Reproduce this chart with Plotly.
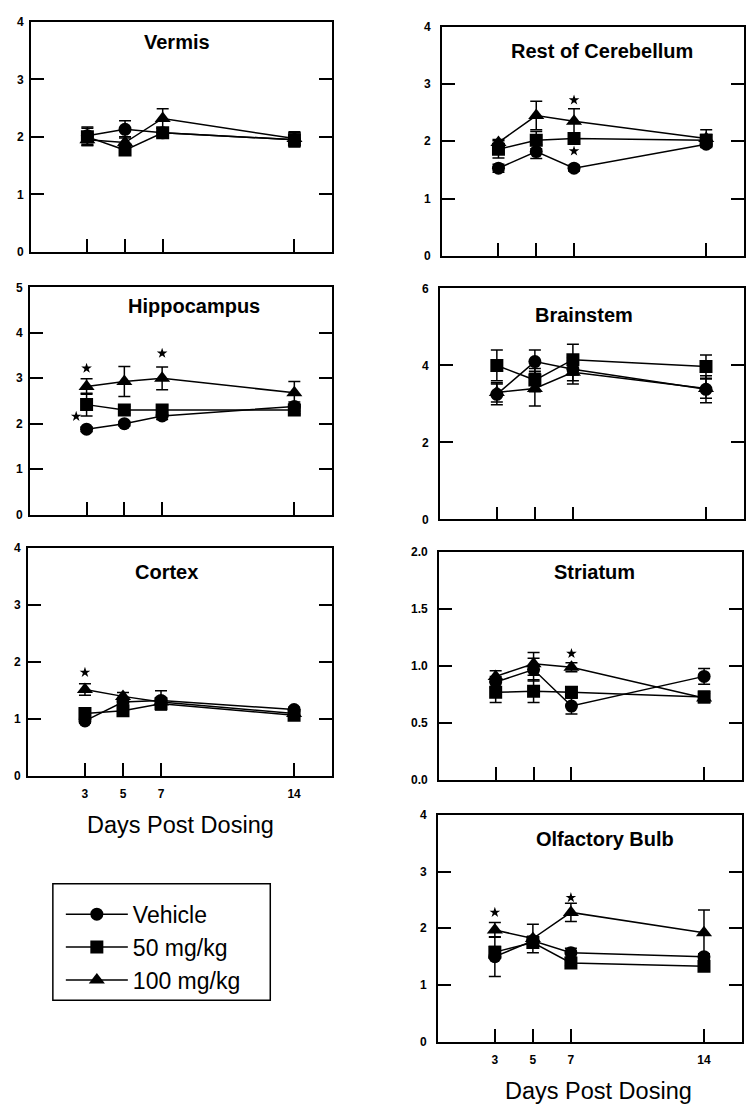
import plotly.graph_objects as go

W, H = 746, 1115
FONT = "Liberation Sans, Arial, Helvetica, sans-serif"

days = [3, 5, 7, 14]
series_names = ["Vehicle", "50 mg/kg", "100 mg/kg"]

# Vermis
vermis_vehicle = [2.02, 2.13, 2.07, 1.95]
vermis_vehicle_err = [0.15, 0.15, 0.08, 0.12]
vermis_50 = [2.00, 1.77, 2.07, 1.95]
vermis_50_err = [0.15, 0.08, 0.08, 0.12]
vermis_100 = [1.95, 1.90, 2.32, 1.97]
vermis_100_err = [0.10, 0.10, 0.17, 0.12]
vermis_sig_x = []
vermis_sig_y = []

# Rest of Cerebellum
rest_vehicle = [1.53, 1.82, 1.53, 1.95]
rest_vehicle_err = [0.07, 0.12, 0.05, 0.06]
rest_50 = [1.86, 2.02, 2.05, 2.02]
rest_50_err = [0.15, 0.15, 0.10, 0.10]
rest_100 = [1.98, 2.45, 2.35, 2.05]
rest_100_err = [0.05, 0.25, 0.22, 0.15]
rest_sig_x = [7, 7]
rest_sig_y = [2.72, 1.83]

# Hippocampus
hippo_vehicle = [1.88, 2.00, 2.17, 2.38]
hippo_vehicle_err = [0.05, 0.05, 0.08, 0.10]
hippo_50 = [2.42, 2.30, 2.30, 2.30]
hippo_50_err = [0.25, 0.08, 0.10, 0.08]
hippo_100 = [2.82, 2.93, 3.00, 2.68]
hippo_100_err = [0.17, 0.33, 0.25, 0.25]
hippo_sig_x = [3, 2.45, 7]
hippo_sig_y = [3.22, 2.16, 3.55]

# Brainstem
brain_vehicle = [3.25, 4.10, 3.90, 3.38]
brain_vehicle_err = [0.27, 0.30, 0.30, 0.35]
brain_50 = [4.00, 3.62, 4.15, 3.97]
brain_50_err = [0.40, 0.30, 0.40, 0.30]
brain_100 = [3.30, 3.40, 3.82, 3.40]
brain_100_err = [0.25, 0.45, 0.30, 0.25]
brain_sig_x = []
brain_sig_y = []

# Cortex
cortex_vehicle = [0.97, 1.30, 1.33, 1.17]
cortex_vehicle_err = [0.04, 0.08, 0.17, 0.04]
cortex_50 = [1.10, 1.15, 1.27, 1.07]
cortex_50_err = [0.08, 0.08, 0.08, 0.04]
cortex_100 = [1.52, 1.40, 1.30, 1.10]
cortex_100_err = [0.10, 0.07, 0.08, 0.04]
cortex_sig_x = [3]
cortex_sig_y = [1.82]

# Striatum
stri_vehicle = [0.86, 0.97, 0.65, 0.91]
stri_vehicle_err = [0.05, 0.10, 0.07, 0.07]
stri_50 = [0.77, 0.78, 0.77, 0.73]
stri_50_err = [0.09, 0.10, 0.05, 0.05]
stri_100 = [0.91, 1.02, 0.99, 0.72]
stri_100_err = [0.05, 0.10, 0.04, 0.04]
stri_sig_x = [7]
stri_sig_y = [1.11]

# Olfactory Bulb
olf_vehicle = [1.50, 1.78, 1.57, 1.50]
olf_vehicle_err = [0.35, 0.08, 0.08, 0.05]
olf_50 = [1.58, 1.75, 1.39, 1.33]
olf_50_err = [0.10, 0.10, 0.05, 0.05]
olf_100 = [1.97, 1.82, 2.28, 1.92]
olf_100_err = [0.13, 0.25, 0.16, 0.40]
olf_sig_x = [3, 7]
olf_sig_y = [2.28, 2.54]

y_ticks_4 = [0, 1, 2, 3, 4]
y_ticks_5 = [0, 1, 2, 3, 4, 5]
y_ticks_6 = [0, 2, 4, 6]
y_ticks_2 = [0.0, 0.5, 1.0, 1.5, 2.0]

# panel layout: (title, series, sig, yrange, yticks, tickfmt, px box (l, r, t, b), title pos, show x labels, side)
panels = [
    ("Vermis", [(vermis_vehicle, vermis_vehicle_err), (vermis_50, vermis_50_err), (vermis_100, vermis_100_err)],
     (vermis_sig_x, vermis_sig_y), [0, 4], y_ticks_4, "d", (31, 333, 15, 248), (177, 35), False, "L"),
    ("Rest of Cerebellum", [(rest_vehicle, rest_vehicle_err), (rest_50, rest_50_err), (rest_100, rest_100_err)],
     (rest_sig_x, rest_sig_y), [0, 4], y_ticks_4, "d", (443, 746, 20, 252), (604, 45), False, "R"),
    ("Hippocampus", [(hippo_vehicle, hippo_vehicle_err), (hippo_50, hippo_50_err), (hippo_100, hippo_100_err)],
     (hippo_sig_x, hippo_sig_y), [0, 5], y_ticks_5, "d", (30, 333, 284, 514), (195, 303), False, "L"),
    ("Brainstem", [(brain_vehicle, brain_vehicle_err), (brain_50, brain_50_err), (brain_100, brain_100_err)],
     (brain_sig_x, brain_sig_y), [0, 6], y_ticks_6, "d", (441, 746, 285, 519), (586, 312), False, "R"),
    ("Cortex", [(cortex_vehicle, cortex_vehicle_err), (cortex_50, cortex_50_err), (cortex_100, cortex_100_err)],
     (cortex_sig_x, cortex_sig_y), [0, 4], y_ticks_4, "d", (28, 333, 548, 779), (167, 572), True, "L"),
    ("Striatum", [(stri_vehicle, stri_vehicle_err), (stri_50, stri_50_err), (stri_100, stri_100_err)],
     (stri_sig_x, stri_sig_y), [0, 2], y_ticks_2, ".1f", (440, 744, 552, 783), (596, 572), False, "R"),
    ("Olfactory Bulb", [(olf_vehicle, olf_vehicle_err), (olf_50, olf_50_err), (olf_100, olf_100_err)],
     (olf_sig_x, olf_sig_y), [0, 4], y_ticks_4, "d", (439, 744, 818, 1048), (607, 843), True, "R"),
]

symbols = ["circle", "square", "triangle-up"]

fig = go.Figure()
layout = {}
annotations = []

for i, (title, series, sig, yr, yt, fmt, box, tpos, showx, side) in enumerate(panels):
    n = i + 1
    xa = "x" if n == 1 else f"x{n}"
    ya = "y" if n == 1 else f"y{n}"
    l, r, t, b = box
    for s, ((vals, errs), sym) in enumerate(zip(series, symbols)):
        fig.add_trace(go.Scatter(
            x=days, y=vals, xaxis=xa, yaxis=ya, mode="lines+markers",
            name=series_names[s], showlegend=(n == 1), legendrank=s,
            line=dict(color="black", width=1.5),
            marker=dict(symbol=sym, size=13 if sym != "triangle-up" else 14, color="black"),
            error_y=dict(type="data", array=errs, color="black", thickness=1.5, width=6),
        ))
    if sig[0]:
        fig.add_trace(go.Scatter(
            x=sig[0], y=sig[1], xaxis=xa, yaxis=ya, mode="markers", showlegend=False,
            marker=dict(symbol="star", size=8, color="black"), hoverinfo="skip",
        ))
    layout[f"xaxis{n}"] = dict(
        domain=[l / W, r / W], anchor=ya, range=[0, 16],
        tickvals=days, ticks="inside", ticklen=13, tickwidth=1.5, tickcolor="black",
        showticklabels=showx, tickfont=dict(family=FONT, size=12, color="black", weight="bold"),
        ticklabelstandoff=6,
        showline=True, linecolor="black", linewidth=1.5, mirror=True,
        showgrid=False, zeroline=False,
    )
    layout[f"yaxis{n}"] = dict(
        domain=[1 - b / H, 1 - t / H], anchor=xa, range=yr,
        tickvals=yt, tickformat=fmt, ticks="inside", ticklen=13, tickwidth=1.5, tickcolor="black",
        tickfont=dict(family=FONT, size=12, color="black", weight="bold"),
        ticklabelstandoff=3 if side == "L" else 7,
        showline=True, linecolor="black", linewidth=1.5, mirror="ticks",
        showgrid=False, zeroline=False,
    )
    annotations.append(dict(
        text=title, xref="paper", yref="paper", x=tpos[0] / W, y=1 - tpos[1] / H,
        xanchor="center", yanchor="middle", showarrow=False,
        font=dict(family=FONT, size=20, color="black", weight="bold"),
    ))

for cx, cy in [(181, 828), (600, 1098)]:
    annotations.append(dict(
        text="Days Post Dosing", xref="paper", yref="paper", x=cx / W, y=1 - cy / H,
        xanchor="center", yanchor="middle", showarrow=False,
        font=dict(family=FONT, size=23.5, color="black"),
    ))

# legend frame drawn as a shape so its size matches the original box
legend_box = dict(
    type="rect", xref="paper", yref="paper",
    x0=53 / W, x1=271 / W, y0=1 - 1006 / H, y1=1 - 888 / H,
    line=dict(color="black", width=1.5), fillcolor="rgba(0,0,0,0)", layer="above",
)

fig.update_layout(
    width=W, height=H, margin=dict(l=0, r=0, t=0, b=0),
    paper_bgcolor="white", plot_bgcolor="white",
    showlegend=True,
    legend=dict(
        x=61 / W, y=1 - 897 / H, xanchor="left", yanchor="top",
        borderwidth=0, bgcolor="rgba(0,0,0,0)",
        font=dict(family=FONT, size=23, color="black"),
        itemwidth=62, tracegroupgap=0, traceorder="normal",
    ),
    shapes=[legend_box],
    annotations=annotations,
    **layout,
)

fig.write_html("out.html")
